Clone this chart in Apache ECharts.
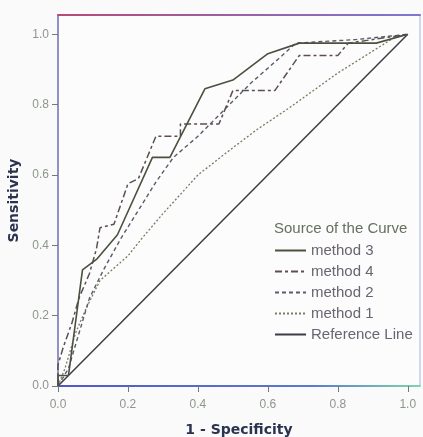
<!DOCTYPE html>
<html>
<head>
<meta charset="utf-8">
<script src="https://cdn.jsdelivr.net/npm/echarts@6/dist/echarts.min.js"></script>
<style>
html,body{margin:0;padding:0;background:#fafafa;}
#chart{width:423px;height:437px;}
</style>
</head>
<body>
<div id="chart"></div>
<script>
// ROC curves: [1 - Specificity, Sensitivity]
const method3 = [[0,0],[0,0.03],[0.03,0.03],[0.07,0.33],[0.11,0.36],[0.17,0.43],[0.27,0.65],[0.32,0.65],[0.42,0.845],[0.5,0.87],[0.6,0.945],[0.69,0.975],[0.91,0.975],[1,1]];
const method4 = [[0,0],[0,0.06],[0.015,0.11],[0.04,0.18],[0.06,0.25],[0.09,0.32],[0.11,0.39],[0.12,0.45],[0.16,0.46],[0.2,0.575],[0.23,0.59],[0.28,0.71],[0.35,0.71],[0.35,0.745],[0.46,0.745],[0.5,0.84],[0.62,0.84],[0.69,0.94],[0.8,0.94],[0.83,0.975],[1,1]];
const method2 = [[0,0],[0.03,0.05],[0.06,0.15],[0.09,0.25],[0.13,0.33],[0.18,0.42],[0.23,0.5],[0.28,0.58],[0.33,0.65],[0.4,0.71],[0.49,0.8],[0.55,0.86],[0.63,0.93],[0.68,0.975],[0.85,0.985],[1,1]];
const method1 = [[0,0],[0.02,0.05],[0.05,0.15],[0.08,0.22],[0.12,0.3],[0.2,0.37],[0.24,0.42],[0.3,0.49],[0.4,0.6],[0.49,0.67],[0.57,0.73],[0.66,0.79],[0.8,0.89],[0.96,0.99],[1,1]];
const referenceLine = [[0,0],[1,1]];
const tickValues = [0,0.2,0.4,0.6,0.8,1.0];
const legendOrder = ['method 3','method 4','method 2','method 1','Reference Line'];

const chart = echarts.init(document.getElementById('chart'), null, {renderer:'canvas'});
const tickLabelStyle = {color:'#8e968c', fontSize:12, fontFamily:'Liberation Sans, Arial, sans-serif', formatter: v => Number(v).toFixed(1)};
function mkSeries(name, data, color, type, width){
  return {name, type:'line', data, symbol:'none', showSymbol:false, silent:true,
    lineStyle:{color, width, type}, itemStyle:{color}, animation:false};
}
chart.setOption({
  backgroundColor:'#fafafa',
  animation:false,
  grid:{left:58, right:3, top:15, bottom:51, outerBoundsMode:'none', containLabel:false, show:true, backgroundColor:'#fcfcfc', borderColor:'#aab4dd', borderWidth:1},
  title:{text:'Source of the Curve', left:274, top:221, padding:0, textStyle:{fontSize:15, fontWeight:'normal', color:'#66705e', fontFamily:'Liberation Sans, Arial, sans-serif'}},
  legend:{orient:'vertical', left:274, top:243, padding:0, itemWidth:31, itemHeight:14, itemGap:6, data:legendOrder,
    itemStyle:{opacity:0},
    textStyle:{fontSize:15, color:'#6a6470', fontFamily:'Liberation Sans, Arial, sans-serif'}, selectedMode:false},
  xAxis:[{type:'value', min:0, max:1.035, position:'bottom',
    name:'1 - Specificity', nameLocation:'middle', nameGap:37,
    nameTextStyle:{fontSize:14, fontWeight:'bold', color:'#2c3350', fontFamily:'DejaVu Sans, sans-serif'},
    axisLine:{show:true, onZero:false, lineStyle:{width:2, color:{type:'linear', x:58, y:0, x2:420, y2:0, global:true, colorStops:[{offset:0,color:'#5058c8'},{offset:0.7,color:'#5a7ad0'},{offset:1,color:'#7ad8a8'}]}}},
    axisTick:{show:true, length:6, inside:false, customValues:tickValues, lineStyle:{color:'#777'}},
    axisLabel:Object.assign({customValues:tickValues, margin:13}, tickLabelStyle),
    splitLine:{show:false}},
   {type:'value', min:0, max:1.035, position:'top',
    axisLine:{show:true, onZero:false, lineStyle:{width:2, color:{type:'linear', x:58, y:0, x2:420, y2:0, global:true, colorStops:[{offset:0,color:'#b84a78'},{offset:1,color:'#7c78d0'}]}}},
    axisTick:{show:false}, axisLabel:{show:false}, splitLine:{show:false}}],
  yAxis:{type:'value', min:0, max:1.055,
    name:'Sensitivity', nameLocation:'middle', nameGap:30, nameRotate:90,
    nameTextStyle:{fontSize:14, fontWeight:'bold', color:'#2c3350', fontFamily:'DejaVu Sans, sans-serif'},
    axisLine:{show:true, onZero:false, lineStyle:{width:1.5, color:'#7a7ab8'}},
    axisTick:{show:true, length:6, customValues:tickValues, lineStyle:{color:'#777'}},
    axisLabel:Object.assign({customValues:tickValues, margin:9}, tickLabelStyle),
    splitLine:{show:false}},
  series:[
    mkSeries('Reference Line', referenceLine, '#3c3c44', 'solid', 1.5),
    mkSeries('method 1', method1, '#7a7a62', [2,2], 1.3),
    mkSeries('method 2', method2, '#585c68', [4,3], 1.4),
    mkSeries('method 4', method4, '#5e4e52', [7,3,3,3], 1.5),
    mkSeries('method 3', method3, '#4c5040', 'solid', 1.6)
  ]
});
</script>
</body>
</html>
